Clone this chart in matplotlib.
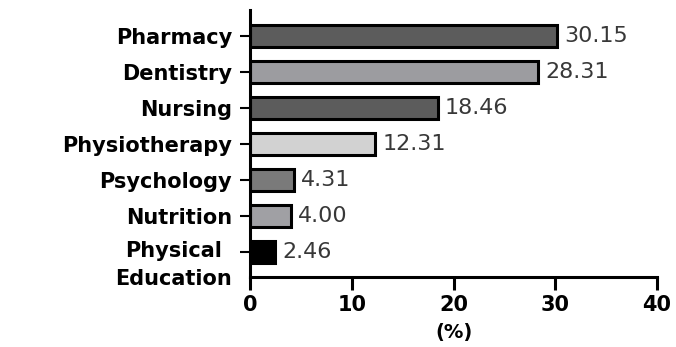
import matplotlib.pyplot as plt
import matplotlib.transforms as mtransforms

# share of respondents by course
courses = ['Pharmacy', 'Dentistry', 'Nursing', 'Physiotherapy',
           'Psychology', 'Nutrition', 'Physical\nEducation']
percent = [30.15, 28.31, 18.46, 12.31, 4.31, 4.00, 2.46]
colors = ['#5c5c5c', '#9c9ca0', '#5c5c5c', '#d2d2d2', '#7a7a7a', '#a0a0a4', '#000000']

fig = plt.figure(figsize=(6.76, 3.47), dpi=100)
ax = fig.add_axes([0.370, 0.2017, 0.602, 0.769])

y = list(range(len(courses)))
bars = ax.barh(y, percent, height=0.63, color=colors, edgecolor='black', linewidth=2.2)

for b, v in zip(bars, percent):
    ax.text(v + 0.7, b.get_y() + b.get_height() / 2, f'{v:.2f}',
            va='center', ha='left', fontsize=16, color='#383838',
            family='DejaVu Sans')

ax.set_xlim(0, 40)
ax.set_ylim(len(courses) - 0.3, -0.72)
ax.set_xticks([0, 10, 20, 30, 40])
ax.set_yticks(y)
ax.set_yticklabels(courses)

ax.set_xlabel('(%)', fontsize=14, fontweight='heavy', labelpad=6)

ax.spines['top'].set_visible(False)
ax.spines['right'].set_visible(False)
ax.spines['left'].set_linewidth(2.2)
ax.spines['bottom'].set_linewidth(2.2)
ax.tick_params(axis='x', length=9, width=2.2, pad=4)
ax.tick_params(axis='y', length=7, width=1.5, pad=6)

for lbl in ax.get_xticklabels() + ax.get_yticklabels():
    lbl.set_fontweight('heavy')
    lbl.set_fontsize(15)
    lbl.set_family('DejaVu Sans')

# two-line label keeps its first line on the tick
last = ax.get_yticklabels()[-1]
last.set_verticalalignment('top')
last.set_multialignment('center')
last.set_linespacing(1.45)
last.set_transform(last.get_transform() +
                   mtransforms.ScaledTranslation(0, 7.5 / 72, fig.dpi_scale_trans))

fig.savefig('out.png', dpi=100)
